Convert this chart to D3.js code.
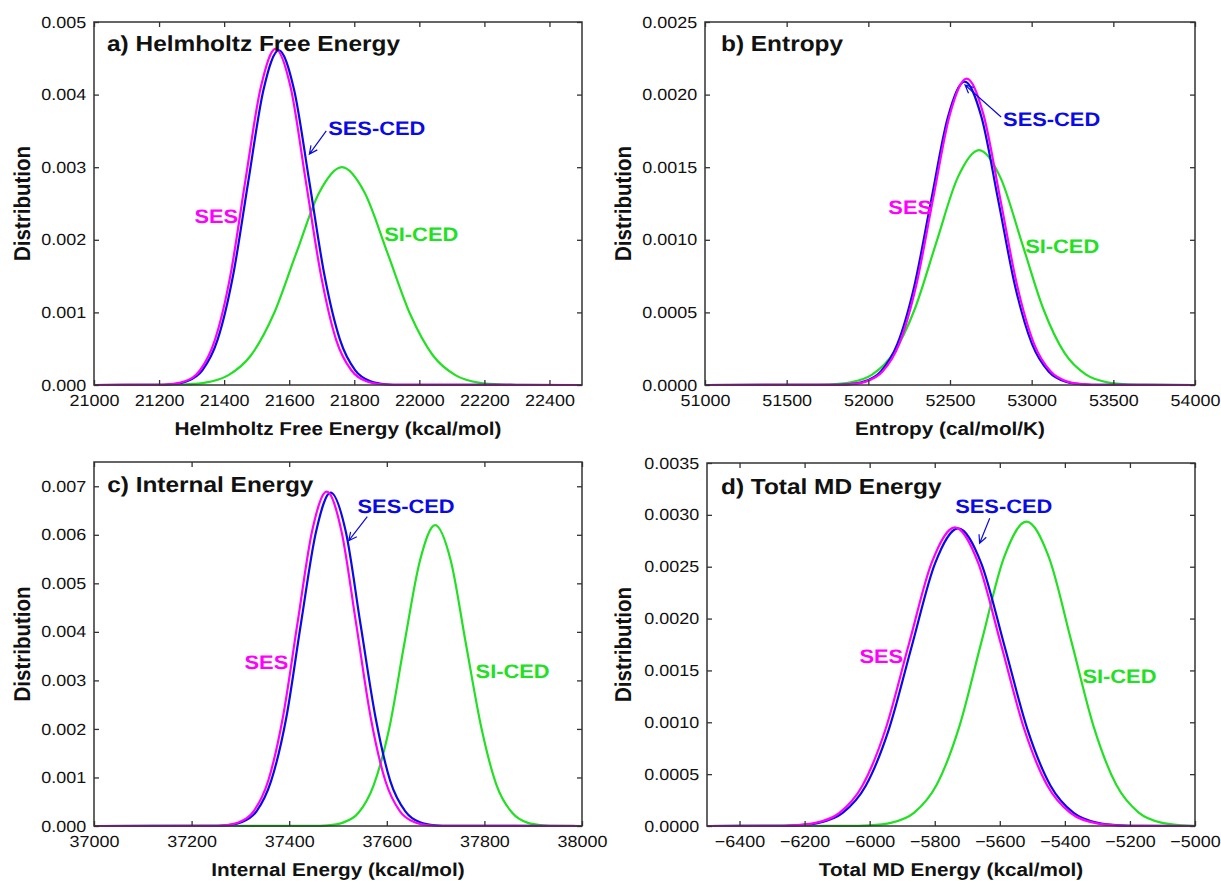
<!DOCTYPE html>
<html>
<head>
<meta charset="utf-8">
<script src="https://cdn.jsdelivr.net/npm/d3@7"></script>
<style>
  html, body { margin: 0; padding: 0; background: #fff; }
  svg { display: block; text-rendering: geometricPrecision; }
</style>
</head>
<body>
<div id="chart"></div>
<script>
// distributions: [energy, distribution]
const helmSES = [[21000, 0], [21186, 0.0000016], [21232, 0.0000101], [21279, 0.0000514], [21326, 0.000203], [21372, 0.000626], [21419, 0.001503], [21465, 0.002808], [21512, 0.004086], [21558, 0.00463], [21605, 0.004086], [21651, 0.002808], [21698, 0.001503], [21744, 0.000626], [21791, 0.000203], [21837, 0.0000514], [21884, 0.0000101], [21930, 0.0000016], [22500, 0]];
const helmSESCED = [[21000, 0], [21192, 0.0000015], [21239, 0.0000101], [21286, 0.0000512], [21333, 0.000202], [21380, 0.000624], [21427, 0.001497], [21474, 0.002796], [21521, 0.004068], [21568, 0.00461], [21615, 0.004068], [21662, 0.002796], [21709, 0.001497], [21756, 0.000624], [21803, 0.000202], [21850, 0.0000512], [21897, 0.0000101], [21944, 0.0000015], [22500, 0]];
const helmSICED = [[21000, 0], [21202, 0.000001], [21272, 0.0000066], [21342, 0.0000333], [21412, 0.000132], [21482, 0.000406], [21552, 0.000974], [21622, 0.00182], [21692, 0.002648], [21762, 0.003], [21832, 0.002648], [21902, 0.00182], [21972, 0.000974], [22042, 0.000406], [22112, 0.000132], [22182, 0.0000333], [22252, 0.0000066], [22322, 0.000001], [22500, 0]];

const entropySES = [[51000, 0], [51778, 0.0000007], [51881, 0.0000046], [51984, 0.0000234], [52087, 0.0000926], [52190, 0.000285], [52293, 0.000685], [52396, 0.00128], [52499, 0.001862], [52602, 0.00211], [52705, 0.001862], [52808, 0.00128], [52911, 0.000685], [53014, 0.000285], [53117, 0.0000926], [53220, 0.0000234], [53323, 0.0000046], [53426, 0.0000007], [54000, 0]];
const entropySESCED = [[51000, 0], [51766, 0.0000007], [51869, 0.0000046], [51972, 0.0000232], [52075, 0.0000918], [52178, 0.000283], [52281, 0.000679], [52384, 0.001268], [52487, 0.001844], [52590, 0.00209], [52693, 0.001844], [52796, 0.001268], [52899, 0.000679], [53002, 0.000283], [53105, 0.0000918], [53208, 0.0000232], [53311, 0.0000046], [53414, 0.0000007], [54000, 0]];
const entropySICED = [[51000, 0], [51630, 0.0000005], [51761, 0.0000035], [51892, 0.000018], [52023, 0.000071], [52154, 0.000219], [52285, 0.000525], [52416, 0.000981], [52547, 0.001428], [52678, 0.001618], [52809, 0.001428], [52940, 0.000981], [53071, 0.000525], [53202, 0.000219], [53333, 0.000071], [53464, 0.000018], [53595, 0.0000035], [53726, 0.0000005], [54000, 0]];

const internalSES = [[37000, 0], [37237, 0.0000023], [37267, 0.0000151], [37297, 0.0000765], [37327, 0.000302], [37357, 0.000932], [37387, 0.002237], [37417, 0.004179], [37447, 0.00608], [37477, 0.00689], [37507, 0.00608], [37537, 0.004179], [37567, 0.002237], [37597, 0.000932], [37627, 0.000302], [37657, 0.0000765], [37687, 0.0000151], [37717, 0.0000023], [38000, 0]];
const internalSESCED = [[37000, 0], [37241, 0.0000023], [37272, 0.000015], [37302, 0.0000763], [37333, 0.000302], [37363, 0.00093], [37394, 0.002231], [37424, 0.004167], [37455, 0.006063], [37485, 0.00687], [37516, 0.006063], [37546, 0.004167], [37577, 0.002231], [37607, 0.00093], [37638, 0.000302], [37668, 0.0000763], [37699, 0.000015], [37729, 0.0000023], [38000, 0]];
const internalSICED = [[37000, 0], [37447, 0.0000021], [37479, 0.0000136], [37510, 0.0000688], [37542, 0.000272], [37573, 0.000839], [37605, 0.002013], [37636, 0.00376], [37668, 0.005472], [37699, 0.0062], [37731, 0.005472], [37762, 0.00376], [37794, 0.002013], [37825, 0.000839], [37857, 0.000272], [37888, 0.0000688], [37920, 0.0000136], [37951, 0.0000021], [38000, 0]];

const totalSES = [[-6500, 0], [-6306, 0.000001], [-6235, 0.0000063], [-6164, 0.000032], [-6093, 0.000126], [-6022, 0.00039], [-5951, 0.000935], [-5880, 0.001747], [-5809, 0.002542], [-5738, 0.00288], [-5667, 0.002542], [-5596, 0.001747], [-5525, 0.000935], [-5454, 0.00039], [-5383, 0.000126], [-5312, 0.000032], [-5241, 0.0000063], [-5170, 0.000001], [-5000, 0]];
const totalSESCED = [[-6500, 0], [-6296, 0.000001], [-6225, 0.0000063], [-6154, 0.0000319], [-6083, 0.000126], [-6012, 0.000388], [-5941, 0.000932], [-5870, 0.001741], [-5799, 0.002533], [-5728, 0.00287], [-5657, 0.002533], [-5586, 0.001741], [-5515, 0.000932], [-5444, 0.000388], [-5373, 0.000126], [-5302, 0.0000319], [-5231, 0.0000063], [-5160, 0.000001], [-5000, 0]];
const totalSICED = [[-6500, 0], [-6070, 0.000001], [-6001, 0.0000064], [-5932, 0.0000326], [-5863, 0.000129], [-5794, 0.000397], [-5725, 0.000953], [-5656, 0.00178], [-5587, 0.002589], [-5518, 0.002934], [-5449, 0.002589], [-5380, 0.00178], [-5311, 0.000953], [-5242, 0.000397], [-5173, 0.000129], [-5104, 0.0000326], [-5035, 0.0000064], [-5000, 0.0000026]];

// tick values
const helmXTicks = [21000, 21200, 21400, 21600, 21800, 22000, 22200, 22400];
const helmYTicks = [0, 0.001, 0.002, 0.003, 0.004, 0.005];
const entropyXTicks = [51000, 51500, 52000, 52500, 53000, 53500, 54000];
const entropyYTicks = [0, 0.0005, 0.001, 0.0015, 0.002, 0.0025];
const internalXTicks = [37000, 37200, 37400, 37600, 37800, 38000];
const internalYTicks = [0, 0.001, 0.002, 0.003, 0.004, 0.005, 0.006, 0.007];
const totalXTicks = [-6400, -6200, -6000, -5800, -5600, -5400, -5200, -5000];
const totalYTicks = [0, 0.0005, 0.001, 0.0015, 0.002, 0.0025, 0.003, 0.0035];

const seriesColor = {'SES': '#ff00ff', 'SES-CED': '#0a0ae6', 'SI-CED': '#22e022'};
const drawOrder = ['SI-CED', 'SES-CED', 'SES'];

const width = 1221;
const height = 881;
const FONT = "'Liberation Sans', Arial, Helvetica, sans-serif";
const STRETCH = 1.12; // the original figure is a bit wide

// annotation spots are in data units so they go through the scales
const panels = [
  {
    title: 'a) Helmholtz Free Energy', xLabel: 'Helmholtz Free Energy (kcal/mol)',
    box: {left: 94, top: 22, width: 488, height: 363}, yTitleX: 30,
    xDomain: [21000, 22500], yDomain: [0, 0.005], xTicks: helmXTicks, yTicks: helmYTicks, yFmt: '.3f',
    series: {'SES': helmSES, 'SES-CED': helmSESCED, 'SI-CED': helmSICED},
    titleAt: [21040, 0.0046],
    notes: {'SES': [21443, 0.00223], 'SES-CED': [21720, 0.00344], 'SI-CED': [21892, 0.00198]},
    arrow: [[21714, 0.0035], [21662, 0.00318]]
  },
  {
    title: 'b) Entropy', xLabel: 'Entropy (cal/mol/K)',
    box: {left: 705, top: 22, width: 490, height: 363}, yTitleX: 631,
    xDomain: [51000, 54000], yDomain: [0, 0.0025], xTicks: entropyXTicks, yTicks: entropyYTicks, yFmt: '.4f',
    series: {'SES': entropySES, 'SES-CED': entropySESCED, 'SI-CED': entropySICED},
    titleAt: [51098, 0.0023],
    notes: {'SES': [52390, 0.001175], 'SES-CED': [52825, 0.001784], 'SI-CED': [52960, 0.000909]},
    arrow: [[52813, 0.001846], [52592, 0.002066]]
  },
  {
    title: 'c) Internal Energy', xLabel: 'Internal Energy (kcal/mol)',
    box: {left: 94, top: 462, width: 488, height: 364}, yTitleX: 30,
    xDomain: [37000, 38000], yDomain: [0, 0.0075], xTicks: internalXTicks, yTicks: internalYTicks, yFmt: '.3f',
    series: {'SES': internalSES, 'SES-CED': internalSESCED, 'SI-CED': internalSICED},
    titleAt: [37027, 0.00688],
    notes: {'SES': [37398, 0.003225], 'SES-CED': [37540, 0.00645], 'SI-CED': [37782, 0.00305]},
    arrow: [[37560, 0.006373], [37522, 0.005878]]
  },
  {
    title: 'd) Total MD Energy', xLabel: 'Total MD Energy (kcal/mol)',
    box: {left: 707, top: 463, width: 488, height: 363}, yTitleX: 631,
    xDomain: [-6500, -5000], yDomain: [0, 0.0035], xTicks: totalXTicks, yTicks: totalYTicks, yFmt: '.4f',
    series: {'SES': totalSES, 'SES-CED': totalSESCED, 'SI-CED': totalSICED},
    titleAt: [-6457, 0.0032],
    notes: {'SES': [-5897, 0.001572], 'SES-CED': [-5737, 0.003018], 'SI-CED': [-5346, 0.001379]},
    arrow: [[-5631, 0.002967], [-5662, 0.002726]]
  }
];

const svg = d3.select('#chart').append('svg')
    .attr('width', width)
    .attr('height', height)
    .style('font-family', FONT);

function stretchText (sel) {
  sel.attr('transform', `scale(${STRETCH},1)`);
}

function placeText (g, x, y, str) {
  return g.append('text')
    .attr('transform', `translate(${x},${y}) scale(${STRETCH},1)`)
    .style('font-family', FONT)
    .text(str);
}

panels.forEach(function (p) {
  const b = p.box;
  const g = svg.append('g').attr('transform', `translate(${b.left},${b.top})`);

  const x = d3.scaleLinear().domain(p.xDomain).range([0, b.width]);
  const y = d3.scaleLinear().domain(p.yDomain).range([b.height, 0]);
  const fmt = d3.format(p.yFmt);

  // curves first, frame and ticks over them
  const line = d3.line()
    .x(d => x(d[0]))
    .y(d => y(d[1]))
    .curve(d3.curveMonotoneX);

  drawOrder.forEach(function (name) {
    g.append('path')
      .datum(p.series[name])
      .attr('fill', 'none')
      .attr('stroke', seriesColor[name])
      .attr('stroke-width', 2.2)
      .attr('stroke-linejoin', 'round')
      .attr('d', line);
  });

  const bottom = g.append('g')
    .attr('transform', `translate(0,${b.height})`)
    .call(d3.axisBottom(x).tickValues(p.xTicks).tickSize(-5).tickPadding(10).tickFormat(d3.format('d')));
  const left = g.append('g')
    .call(d3.axisLeft(y).tickValues(p.yTicks).tickSize(-5).tickPadding(7).tickFormat(fmt));
  const top = g.append('g')
    .call(d3.axisTop(x).tickValues(p.xTicks).tickSize(-5).tickFormat(''));
  const right = g.append('g')
    .attr('transform', `translate(${b.width},0)`)
    .call(d3.axisRight(y).tickValues(p.yTicks).tickSize(-5).tickFormat(''));

  [bottom, left, top, right].forEach(function (ax) {
    ax.select('.domain').remove();
    ax.selectAll('line').attr('stroke', '#333').attr('stroke-width', 1.3);
    ax.selectAll('text')
      .attr('fill', '#111')
      .style('font-family', FONT)
      .style('font-size', '16px')
      .call(stretchText);
  });

  g.append('rect')
    .attr('width', b.width)
    .attr('height', b.height)
    .attr('fill', 'none')
    .attr('stroke', '#333')
    .attr('stroke-width', 1.5);

  // panel title
  placeText(g, x(p.titleAt[0]), y(p.titleAt[1]), p.title)
    .attr('font-weight', 'bold')
    .attr('font-size', '21.8px')
    .attr('fill', '#111');

  // axis titles
  placeText(g, b.width / 2, b.height + 50, p.xLabel)
    .attr('text-anchor', 'middle')
    .attr('font-weight', 'bold')
    .attr('font-size', '18.5px')
    .attr('fill', '#111');

  g.append('text')
    .attr('transform', `translate(${p.yTitleX - b.left},${b.height / 2}) rotate(-90) scale(1,${STRETCH})`)
    .attr('text-anchor', 'middle')
    .style('font-family', FONT)
    .attr('font-weight', 'bold')
    .attr('font-size', '20.5px')
    .attr('fill', '#111')
    .text('Distribution');

  // series labels
  placeText(g, x(p.notes['SES'][0]), y(p.notes['SES'][1]), 'SES')
    .attr('text-anchor', 'end')
    .attr('font-weight', 'bold')
    .attr('font-size', '19.5px')
    .attr('fill', seriesColor['SES']);
  placeText(g, x(p.notes['SES-CED'][0]), y(p.notes['SES-CED'][1]), 'SES-CED')
    .attr('font-weight', 'bold')
    .attr('font-size', '19.5px')
    .attr('fill', seriesColor['SES-CED']);
  placeText(g, x(p.notes['SI-CED'][0]), y(p.notes['SI-CED'][1]), 'SI-CED')
    .attr('font-weight', 'bold')
    .attr('font-size', '19.5px')
    .attr('fill', seriesColor['SI-CED']);

  // thin arrow from the SES-CED label to its curve
  const x0 = x(p.arrow[0][0]), y0 = y(p.arrow[0][1]);
  const x1 = x(p.arrow[1][0]), y1 = y(p.arrow[1][1]);
  const ang = Math.atan2(y1 - y0, x1 - x0);
  const head = 9;
  const spread = 0.45;
  const path = d3.path();
  path.moveTo(x0, y0);
  path.lineTo(x1, y1);
  path.moveTo(x1 - head * Math.cos(ang - spread), y1 - head * Math.sin(ang - spread));
  path.lineTo(x1, y1);
  path.lineTo(x1 - head * Math.cos(ang + spread), y1 - head * Math.sin(ang + spread));
  g.append('path')
    .attr('d', path.toString())
    .attr('fill', 'none')
    .attr('stroke', seriesColor['SES-CED'])
    .attr('stroke-width', 1.2);
});
</script>
</body>
</html>
